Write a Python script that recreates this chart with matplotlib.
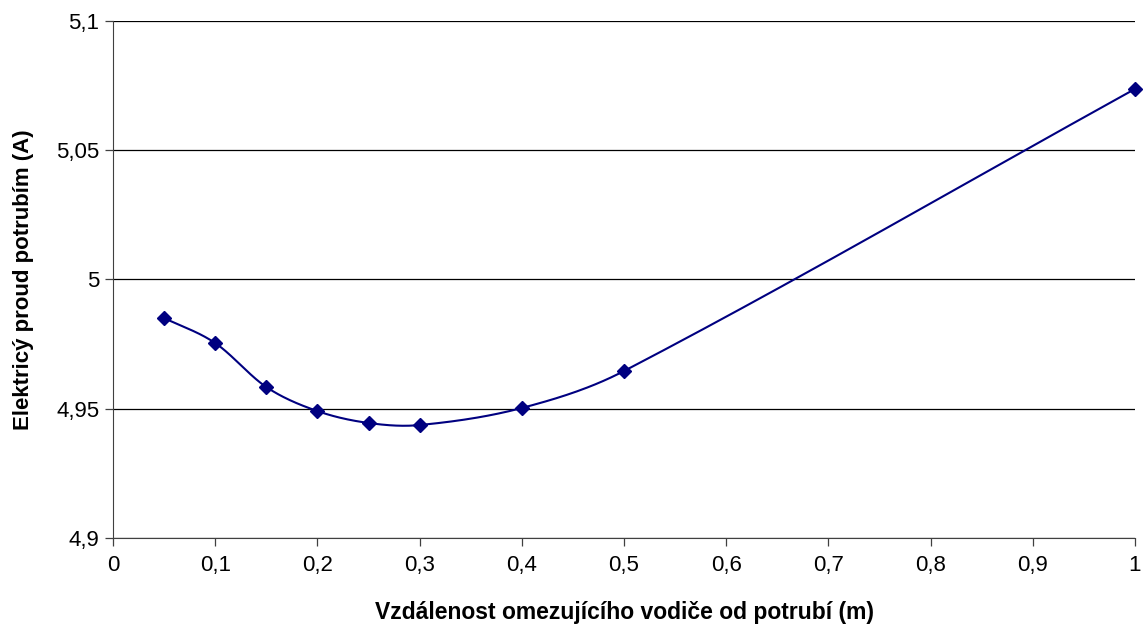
import matplotlib.pyplot as plt
import numpy as np

plt.rcParams['font.family'] = ['Liberation Sans', 'DejaVu Sans']

distance_m = [0.05, 0.1, 0.15, 0.2, 0.25, 0.3, 0.4, 0.5, 1.0]
current_a = [4.9851, 4.9754, 4.9584, 4.9491, 4.9445, 4.9437, 4.9503, 4.9646, 5.0737]

x_ticks = [0, 0.1, 0.2, 0.3, 0.4, 0.5, 0.6, 0.7, 0.8, 0.9, 1]
y_ticks = [4.9, 4.95, 5.0, 5.05, 5.1]

LINE_COLOR = '#000080'


def smooth_curve(x, y, n=40):
    # piecewise cubic Hermite, tangents from neighbouring points (uneven spacing)
    x = np.asarray(x, float)
    y = np.asarray(y, float)
    m = np.empty_like(y)
    m[1:-1] = (y[2:] - y[:-2]) / (x[2:] - x[:-2])
    m[0] = (y[1] - y[0]) / (x[1] - x[0])
    m[-1] = (y[-1] - y[-2]) / (x[-1] - x[-2])
    xs, ys = [], []
    t = np.linspace(0, 1, n)
    for i in range(len(x) - 1):
        h = x[i + 1] - x[i]
        h00 = 2 * t ** 3 - 3 * t ** 2 + 1
        h10 = t ** 3 - 2 * t ** 2 + t
        h01 = -2 * t ** 3 + 3 * t ** 2
        h11 = t ** 3 - t ** 2
        seg = h00 * y[i] + h10 * h * m[i] + h01 * y[i + 1] + h11 * h * m[i + 1]
        xs.append(x[i] + t * h)
        ys.append(seg)
    return np.concatenate(xs), np.concatenate(ys)


def fmt(v):
    return f"{v:g}".replace('.', ',')


fig = plt.figure(figsize=(11.43, 6.3), dpi=100)
ax = fig.add_axes([0.0989, 0.146, 0.8941, 0.8207])

sx, sy = smooth_curve(distance_m, current_a)
ax.plot(sx, sy, color=LINE_COLOR, linewidth=1.5, zorder=3)
ax.plot(distance_m, current_a, linestyle='none', marker='D', markersize=7.5,
        color=LINE_COLOR, zorder=4, clip_on=False)

ax.set_xlim(0, 1)
ax.set_ylim(4.9, 5.1)
ax.set_xticks(x_ticks)
ax.set_yticks(y_ticks)
ax.set_xticklabels([fmt(v) for v in x_ticks])
ax.set_yticklabels([fmt(v) for v in y_ticks])
ax.yaxis.grid(True, color='black', linewidth=0.9)
ax.set_axisbelow(True)

for side in ['top', 'right']:
    ax.spines[side].set_visible(False)
for side in ['left', 'bottom']:
    ax.spines[side].set_color('#404040')
ax.tick_params(direction='out', length=6, width=0.9, color='#404040',
               labelsize=16)
ax.tick_params(axis='x', pad=6)
ax.tick_params(axis='y', pad=4)

ax.set_xlabel('Vzdálenost omezujícího vodiče od potrubí (m)', fontsize=16.5,
              fontweight='bold', va='center')
ax.set_ylabel('Elektricý proud potrubím (A)', fontsize=16,
              fontweight='bold', va='center')
ax.xaxis.set_label_coords(0.5, -0.145)
ax.yaxis.set_label_coords(-0.088, 0.5)

fig.savefig('out.png', dpi=100)
